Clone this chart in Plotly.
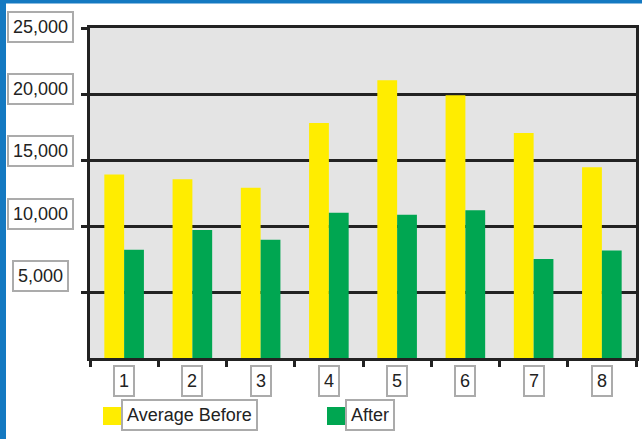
import plotly.graph_objects as go

categories = ["1", "2", "3", "4", "5", "6", "7", "8"]
before = [13900, 13550, 12900, 17800, 21050, 19900, 17050, 14450]
after = [8200, 9700, 8950, 11000, 10850, 11200, 7500, 8150]
y_ticks = [5000, 10000, 15000, 20000, 25000]
y_tick_labels = ["5,000", "10,000", "15,000", "20,000", "25,000"]
series_names = ["Average Before", "After"]

W, H = 642, 439
ML, MR, MT, MB = 90, 6, 28, 81
PW, PH = W - ML - MR, H - MT - MB

def px_x(p):
    return (p - ML) / PW

def px_y(p):
    return (H - MB - p) / PH

YELLOW = "#FFED00"
GREEN = "#00A651"
DARK = "#222222"
BLUE = "#1479C1"
FONT = "Liberation Sans, Arial, sans-serif"

fig = go.Figure()
fig.add_trace(go.Bar(x=categories, y=before, name=series_names[0],
                     marker=dict(color=YELLOW, line=dict(width=0))))
fig.add_trace(go.Bar(x=categories, y=after, name=series_names[1],
                     marker=dict(color=GREEN, line=dict(width=0))))

annotations = []
for v, lab in zip(y_ticks, y_tick_labels):
    annotations.append(dict(
        x=px_x(40), xref="paper", y=v, yref="y", yshift=1 + (25000 - v) / 5000 * 3.8,
        text=lab, showarrow=False, xanchor="center", yanchor="middle",
        font=dict(family=FONT, size=18, color=DARK),
        bgcolor="white", bordercolor="#ABABAB", borderwidth=2, borderpad=4))
for i, c in enumerate(categories):
    annotations.append(dict(
        x=i, xref="x", y=px_y(381), yref="paper",
        text=c, showarrow=False, xanchor="center", yanchor="middle",
        font=dict(family=FONT, size=18, color=DARK),
        bgcolor="white", bordercolor="#ABABAB", borderwidth=2, borderpad=4))

# legend entries
leg = [(series_names[0], YELLOW, 103, 121), (series_names[1], GREEN, 327, 345)]
shapes = [
    dict(type="rect", xref="paper", yref="paper", x0=px_x(-2), x1=px_x(6),
         y0=px_y(H + 2), y1=px_y(-2), fillcolor=BLUE, line=dict(width=0), layer="above"),
    dict(type="rect", xref="paper", yref="paper", x0=px_x(-2), x1=px_x(W + 2),
         y0=px_y(3.5), y1=px_y(-2), fillcolor=BLUE, line=dict(width=0), layer="above"),
]
for name, col, sx0, tx0 in leg:
    shapes.append(dict(type="rect", xref="paper", yref="paper",
                       x0=px_x(sx0), x1=px_x(sx0 + 18), y0=px_y(425), y1=px_y(407),
                       fillcolor=col, line=dict(width=0)))
    annotations.append(dict(
        x=px_x(tx0), xref="paper", y=px_y(415), yref="paper",
        text=name, showarrow=False, xanchor="left", yanchor="middle",
        font=dict(family=FONT, size=18, color=DARK),
        bgcolor="white", bordercolor="#ABABAB", borderwidth=2, borderpad=4))

fig.update_layout(
    width=W, height=H,
    margin=dict(l=ML, r=MR, t=MT, b=MB, autoexpand=False),
    paper_bgcolor="white", plot_bgcolor="#E4E4E4",
    barmode="group", bargap=0.42, bargroupgap=0,
    showlegend=False,
    annotations=annotations, shapes=shapes,
    xaxis=dict(type="category", showticklabels=False, showgrid=False,
               showline=True, linecolor=DARK, linewidth=3, mirror=True,
               ticks="outside", tickson="boundaries", ticklen=6, tickwidth=3,
               tickcolor=DARK),
    yaxis=dict(range=[0, 25000], tickvals=y_ticks, showticklabels=False,
               showgrid=True, gridcolor=DARK, gridwidth=3,
               showline=True, linecolor=DARK, linewidth=3, mirror=True,
               ticks="outside", ticklen=6, tickwidth=3, tickcolor=DARK,
               zeroline=False),
)

fig.write_html("out.html", config={"displayModeBar": False},
               post_script="document.body.style.margin='0px';document.body.style.overflow='hidden';")
